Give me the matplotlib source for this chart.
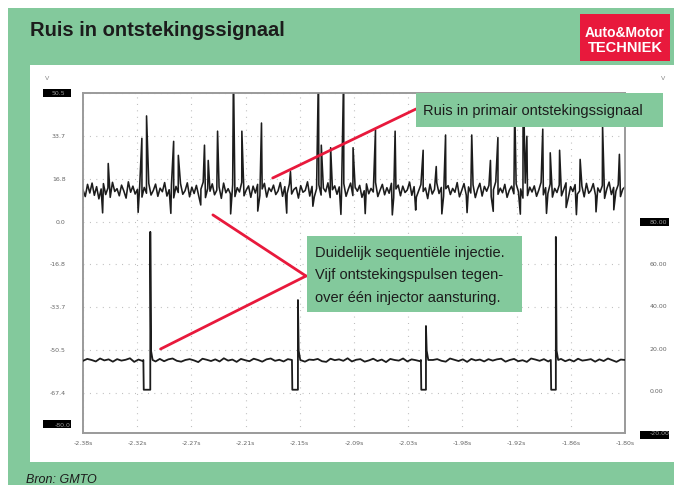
import numpy as np
import matplotlib
matplotlib.use('Agg')
import matplotlib.pyplot as plt
from matplotlib.patches import Rectangle

plt.rcParams['font.family'] = ['Liberation Sans', 'DejaVu Sans']

GREEN = '#83c99c'
RED = '#e8193c'
INK = '#1c1c1c'
W, H = 674, 486

# --- data ----------------------------------------------------------------
t_start, t_end = -2.38, -1.80
x_labels = ['-2.38s', '-2.32s', '-2.27s', '-2.21s', '-2.15s', '-2.09s',
            '-2.03s', '-1.98s', '-1.92s', '-1.86s', '-1.80s']
left_ticks = [50.5, 33.7, 16.8, 0.0, -16.8, -33.7, -50.5, -67.4]
left_labels = ['50.5', '33.7', '16.8', '0.0', '-16.8', '-33.7', '-50.5', '-67.4']
right_ticks = [80, 60, 40, 20, 0, -20]
right_labels = ['80.00', '60.00', '40.00', '20.00', '0.00', '-20.00']

# ignition primary: noisy baseline (V, equally spaced over the window)
ign_base = [
    12.4, 9.8, 14.6, 11.2, 15.1, 10.3, 13.7, 8.9, 12.8, 14.9, 10.6, 13.2, 9.5, 15.4, 11.8, 12.9,
    10.1, 14.3, 12.0, 9.2, 15.6, 11.5, 13.9, 10.8, 12.6, 14.1, 9.6, 13.4, 11.1, 15.0, 10.4, 12.2,
    14.7, 9.9, 13.1, 11.7, 15.3, 10.0, 12.5, 14.4, 9.3, 13.8, 11.4, 14.9, 10.7, 12.1, 15.2, 9.7,
    13.5, 11.0, 14.2, 10.2, 12.7, 15.5, 9.4, 13.0, 11.9, 14.8, 10.5, 12.3, 13.6, 9.1, 15.1, 11.3,
    12.9, 10.9, 14.5, 9.8, 13.3, 11.6, 15.4, 10.1, 12.4, 14.0, 9.5, 13.9, 11.2, 14.6, 10.3, 12.8,
    15.0, 9.6, 13.2, 11.8, 14.3, 10.6, 12.0, 15.3, 9.9, 13.7, 11.0, 14.7, 10.8, 12.6, 13.4, 9.2,
    14.1, 11.5, 12.2, 15.6, 10.0, 13.8, 9.7, 12.9, 14.4, 10.4, 13.1, 11.7, 15.2, 9.4, 12.5, 14.0,
    10.7, 13.6, 11.3, 14.9, 9.9, 12.7, 15.1, 10.2, 13.5, 11.9, 14.2, 9.5, 12.1, 14.8, 10.9, 13.0,
    11.6, 15.4, 9.8, 12.3, 14.6, 10.5, 13.3, 11.1, 15.0, 9.3, 12.8, 14.3, 10.1, 13.9, 11.4, 12.4,
    15.5, 10.3, 13.7, 9.6, 12.0, 14.5, 11.8, 13.2, 9.0, 14.7, 10.8, 12.6, 15.2, 11.0, 13.4, 9.9,
    12.9, 14.1, 10.6, 13.0, 11.5, 15.3, 9.7, 12.2, 14.9, 10.4, 13.6, 11.2, 14.4, 9.4, 12.7, 15.0,
    10.0, 13.8, 11.9, 14.2, 9.8, 12.5, 15.6, 10.7, 13.1, 11.3, 14.6, 9.5, 12.3, 13.9, 10.9, 14.8,
    11.7, 12.8, 9.2, 15.1, 10.2, 13.5, 11.6, 14.0, 9.9, 12.4, 15.4, 10.5, 13.3, 11.0, 14.7, 9.6,
    13.0, 11.4, 14.3, 10.1, 12.6, 15.2, 9.3, 13.7, 11.8, 14.5, 10.8, 12.0, 13.9, 9.7, 15.0, 11.1,
    12.2, 14.9, 10.3, 13.2, 11.5, 14.1, 9.1, 12.9, 15.5, 10.6, 13.4, 11.9, 14.4, 9.8, 12.7, 13.6,
]
ign_spike_t = [-2.353, -2.317, -2.312, -2.283, -2.278, -2.250, -2.246, -2.236, -2.219,
               -2.210, -2.189, -2.158, -2.128, -2.125, -2.115, -2.101, -2.091, -2.067,
               -2.046, -2.016, -2.002, -1.992, -1.964, -1.944, -1.936, -1.918, -1.909,
               -1.905, -1.888, -1.880, -1.870, -1.848, -1.824, -1.806]
ign_spike_v = [22.8, 32.7, 41.5, 31.5, 26.0, 30.0, 24.0, 35.5, 60.0,
               35.5, 38.7, 19.6, 60.0, 30.0, 29.0, 60.0, 29.0, 36.0,
               35.5, 28.0, 21.6, 34.0, 34.0, 24.0, 33.0, 45.0, 60.0,
               33.5, 36.3, 27.0, 28.0, 24.4, 37.5, 26.4]
ign_dip_t = [-2.359, -2.321, -2.286, -2.254, -2.222, -2.193, -2.162, -2.134, -2.104,
             -2.078, -2.049, -2.024, -1.996, -1.969, -1.941, -1.912, -1.884, -1.863,
             -1.852, -1.831, -1.812]
ign_dip_v = [3.4, 3.6, 3.2, 6.5, 3.0, 4.1, 3.3, 6.0, 2.8,
             3.1, 2.6, 4.5, 3.0, 3.5, 4.0, 2.9, 3.2, 5.5,
             2.7, 3.8, 4.6]

# injector: quiet baseline (V on right scale)
inj_base = [
    14.2, 15.1, 14.6, 13.9, 15.3, 14.4, 14.9, 13.8, 15.0, 14.3, 14.7, 15.4, 13.7, 14.8, 14.1, 15.2,
    14.5, 13.9, 15.1, 14.0, 14.9, 15.3, 14.2, 13.8, 14.6, 15.0, 14.4, 13.6, 15.2, 14.7, 14.1, 14.9,
    13.9, 15.4, 14.3, 14.8, 13.7, 15.1, 14.5, 14.0, 15.2, 14.6, 13.8, 14.9, 15.3, 14.2, 14.7, 13.9,
    15.0, 14.4, 14.1, 15.3, 13.8, 14.8, 14.6, 15.1, 14.0, 13.7, 15.2, 14.5, 14.9, 14.2, 15.4, 13.9,
    14.7, 15.0, 13.8, 14.4, 15.2, 14.1, 14.8, 13.6, 15.1, 14.6, 14.3, 15.3, 13.9, 14.9, 14.5, 14.0,
    15.2, 13.9, 14.6, 15.0, 14.2, 13.8, 15.3, 14.7, 14.1, 14.9, 13.7, 15.1, 14.4, 14.8, 13.9, 15.0,
    14.3, 14.9, 15.2, 13.8, 14.6, 15.1, 14.0, 14.5, 13.7, 15.3, 14.8, 14.2, 15.0, 13.9, 14.7, 14.4,
    15.1, 14.0, 14.8, 13.9, 15.2, 14.3, 14.6, 15.0, 13.8, 14.9, 14.1, 15.3, 14.5, 13.7, 14.8, 14.6,
]
inj_open_t = [-2.315, -2.156, -2.018, -1.879]   # driver pulls low
inj_close_t = [-2.308, -2.150, -2.013, -1.874]  # inductive kick
inj_peak = [75.3, 43.0, 30.7, 72.9]
inj_low = 0.5
inj_overshoot = 19.0
inj_level = 14.6


def fpx(x, y):
    """figure pixel (origin top-left) -> figure fraction"""
    return x / W, 1 - y / H


def frect(x0, y0, x1, y1, **kw):
    fig.add_artist(Rectangle(fpx(x0, y1), (x1 - x0) / W, (y1 - y0) / H,
                             transform=fig.transFigure, **kw))


fig = plt.figure(figsize=(W / 100, H / 100), dpi=100)
fig.patch.set_facecolor('white')

# frame: green card with white scope panel
frect(8, 8, W, 485, facecolor=GREEN, edgecolor='none', zorder=-10)
frect(30, 65, W, 462, facecolor='white', edgecolor='none', zorder=-9)
# black marker boxes behind outer labels
for box in [(43, 89, 71, 97), (43, 420, 71, 428), (640, 218, 669, 226), (640, 431, 669, 439)]:
    frect(*box, facecolor='black', edgecolor='none', zorder=-5)

ax = fig.add_axes([83 / W, 1 - 433 / H, (625 - 83) / W, (433 - 93) / H])
ax.set_xlim(t_start, t_end)
ax.set_ylim(-83.1, 50.5)
ax2 = ax.twinx()
ax2.set_ylim(-20, 141.1)

# ignition trace
t_base = np.linspace(t_start, t_end, len(ign_base))
t_all = np.concatenate([t_base, ign_spike_t, ign_dip_t])
v_all = np.concatenate([ign_base, ign_spike_v, ign_dip_v])
order = np.argsort(t_all, kind='stable')
ax.plot(t_all[order], v_all[order], color=INK, lw=1.15, zorder=3)

# injector trace
t_inj = np.linspace(t_start, t_end, len(inj_base))
inj_base = np.array(inj_base)
keep = np.ones(len(t_inj), bool)
for t0, t1 in zip(inj_open_t, inj_close_t):
    keep &= ~((t_inj >= t0 - 0.001) & (t_inj <= t1 + 0.003))
pts_t = list(t_inj[keep])
pts_v = list(inj_base[keep])
for t0, t1, pk in zip(inj_open_t, inj_close_t, inj_peak):
    pts_t += [t0 - 0.0004, t0, t1, t1, t1 + 0.0008, t1 + 0.0025]
    pts_v += [inj_level, inj_low, inj_low, pk, inj_overshoot, inj_level]
pts_t = np.array(pts_t)
pts_v = np.array(pts_v)
order = np.argsort(pts_t, kind='stable')
ax2.plot(pts_t[order], pts_v[order], color=INK, lw=1.3, zorder=3)

# axes styling
tick_font = dict(fontsize=4.5, family='DejaVu Sans')
ax.set_xticks(np.linspace(t_start, t_end, len(x_labels)))
ax.set_xticklabels(x_labels, color='#666', **tick_font)
ax.set_yticks(left_ticks)
ax.set_yticklabels(left_labels, color='#666', **tick_font)
ax.tick_params(axis='x', length=0, pad=6)
ax.tick_params(axis='y', length=0, pad=12.5)
ax2.set_yticks(right_ticks)
ax2.set_yticklabels(right_labels, color='#666', **tick_font)
ax2.tick_params(axis='y', length=0, pad=18)
for lab in ax.get_yticklabels():
    if lab.get_text() == '50.5':
        lab.set_color('#999')
for lab in ax2.get_yticklabels():
    if lab.get_text() in ('80.00', '-20.00'):
        lab.set_color('#999')
ax.text(-0.023, -80.0, '-80.0', transform=ax.get_yaxis_transform(),
        ha='right', va='center', color='#999', **tick_font)

ax.grid(True, color='#b5b5b5', lw=0.8, linestyle=(0, (0.8, 5)))
for a in (ax, ax2):
    for sp in a.spines.values():
        sp.set_color('#9a9a9a')
        sp.set_linewidth(1.2)

fig.text(*fpx(47, 78), 'V', ha='center', va='center', color='#888', **tick_font)
fig.text(*fpx(663, 78), 'V', ha='center', va='center', color='#888', **tick_font)

# header
fig.text(*fpx(30, 36), 'Ruis in ontstekingssignaal', fontsize=14.5, fontweight='bold',
         color=INK, va='baseline', ha='left')
frect(580, 14, 670, 61, facecolor=RED, edgecolor='none', zorder=1)
fig.text(*fpx(625, 37), 'Auto&Motor', fontsize=10, fontweight='bold', color='white',
         ha='center', va='baseline', zorder=2)
fig.text(*fpx(625, 52), 'TECHNIEK', fontsize=10.5, fontweight='bold', color='white',
         ha='center', va='baseline', zorder=2)
fig.text(*fpx(26, 483), 'Bron: GMTO', fontsize=9, style='italic', color=INK,
         ha='left', va='baseline')

# callouts
line_kw = dict(arrowstyle='-', color=RED, lw=2, shrinkA=0, shrinkB=0)
ax2.annotate('', xy=(-2.177, 17.1), xycoords=ax.transData,
             xytext=fpx(416, 109), textcoords='figure fraction',
             arrowprops=line_kw, annotation_clip=False)
ax2.annotate('', xy=(-2.241, 2.6), xycoords=ax.transData,
             xytext=fpx(306, 276), textcoords='figure fraction',
             arrowprops=line_kw, annotation_clip=False)
ax2.annotate('', xy=(-2.297, 19.8), xycoords=ax2.transData,
             xytext=fpx(306, 276), textcoords='figure fraction',
             arrowprops=line_kw, annotation_clip=False)

frect(416, 93, 663, 127, facecolor=GREEN, edgecolor='none', zorder=10)
fig.text(*fpx(423, 115), 'Ruis in primair ontstekingssignaal', fontsize=10.5, color=INK,
         ha='left', va='baseline', zorder=11)
frect(307, 236, 522, 312, facecolor=GREEN, edgecolor='none', zorder=10)
for i, line in enumerate(['Duidelijk sequentiële injectie.',
                          'Vijf ontstekingspulsen tegen-',
                          'over één injector aansturing.']):
    fig.text(*fpx(315, 257 + 22.5 * i), line, fontsize=10.5, color=INK,
             ha='left', va='baseline', zorder=11)

fig.savefig('out.png', dpi=100)
